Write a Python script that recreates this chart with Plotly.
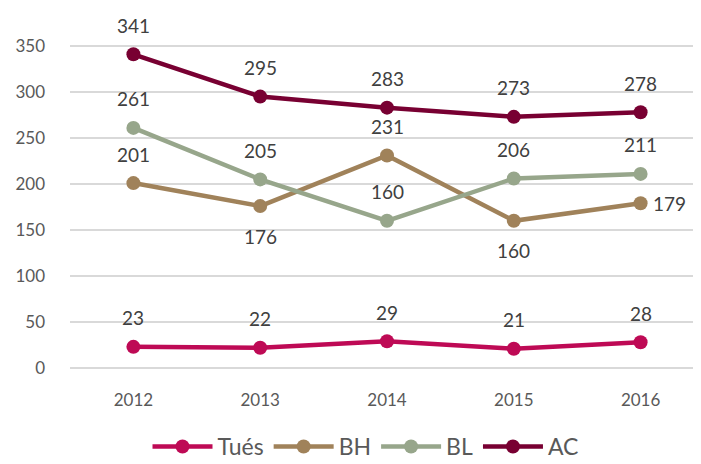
import plotly.graph_objects as go

years = ['2012', '2013', '2014', '2015', '2016']
tues = [23, 22, 29, 21, 28]
bh = [201, 176, 231, 160, 179]
bl = [261, 205, 160, 206, 211]
ac = [341, 295, 283, 273, 278]

# label placement per series: 'above', 'below', 'right'
bh_pos = ['above', 'below', 'above', 'below', 'right']

series = [
    ('Tués', tues, '#BE0A55', ['above'] * 5),
    ('BH', bh, '#A0825A', bh_pos),
    ('BL', bl, '#97A68B', ['above'] * 5),
    ('AC', ac, '#780032', ['above'] * 5),
]

fig = go.Figure()
annotations = []
for name, vals, color, pos in series:
    fig.add_trace(go.Scatter(
        x=years, y=vals, name=name, mode='lines+markers',
        line=dict(color=color, width=4.5),
        marker=dict(color=color, size=14),
    ))
    # annotation x uses the category index so the numeric-looking years stay categories
    for i, (v, p) in enumerate(zip(vals, pos)):
        a = dict(x=i, y=v, text=str(v), showarrow=False,
                 font=dict(size=19, color='#404040', family='Lato'))
        if p == 'above':
            a['yshift'] = 29
        elif p == 'below':
            a['yshift'] = -30
        else:
            a['xshift'] = 29
        annotations.append(a)

fig.update_layout(
    width=701, height=464,
    margin=dict(l=62, r=5, t=0, b=104, autoexpand=False),
    plot_bgcolor='white', paper_bgcolor='white',
    font=dict(family='Lato', color='#595959'),
    annotations=annotations,
    showlegend=True,
    legend=dict(orientation='h', x=0.51, xanchor='center', xref='container',
                y=0.055, yanchor='middle', yref='container',
                font=dict(size=23, color='#595959'), itemwidth=60),
    xaxis=dict(type='category', range=[-0.5, 4.5], showgrid=False, showline=False, ticks='',
               ticklabelstandoff=20, tickfont=dict(size=17, color='#595959')),
    yaxis=dict(range=[0, 391.3], tickvals=[0, 50, 100, 150, 200, 250, 300, 350],
               gridcolor='#D9D9D9', gridwidth=1.5, zeroline=True, zerolinecolor='#D9D9D9',
               zerolinewidth=1.5, ticks='', ticklabelstandoff=24,
               tickfont=dict(size=17, color='#595959')),
)

fig.write_html("out.html")
